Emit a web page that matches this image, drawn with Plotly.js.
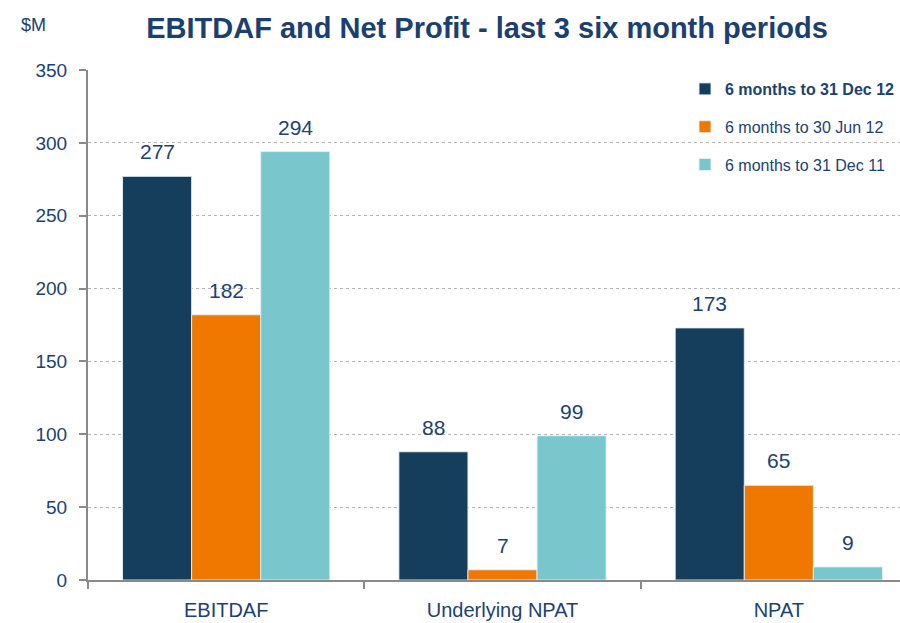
<!DOCTYPE html>
<html>
<head>
<meta charset="utf-8">
<script src="https://cdn.plot.ly/plotly-3.0.1.min.js"></script>
<style>
html,body{margin:0;padding:0;width:900px;height:623px;overflow:hidden;background:#fff;}
#chart{width:920px;height:623px;}
</style>
</head>
<body>
<div id="chart"></div>
<script>
const categories = ["EBITDAF", "Underlying NPAT", "NPAT"];
const seriesNames = ["6 months to 31 Dec 12", "6 months to 30 Jun 12", "6 months to 31 Dec 11"];
const dec12 = [277, 88, 173];
const jun12 = [182, 7, 65];
const dec11 = [294, 99, 9];
const yTicks = [0, 50, 100, 150, 200, 250, 300, 350];

const FONT = '"Liberation Sans Narrow", "Arial Narrow", "Liberation Sans", Arial, sans-serif';
const NAVY_TXT = '#1b4272';
const colors = ['#153d5c', '#f07800', '#79c7cc'];
const values = [dec12, jun12, dec11];

const traces = values.map((v, i) => ({
  type: 'bar',
  x: categories,
  y: v,
  name: i === 0 ? '<b>' + seriesNames[i] + '</b>' : seriesNames[i],
  legendgroup: 'g' + i,
  marker: {color: colors[i], line: {color: 'rgba(230,240,245,0.9)', width: 1}},
  hoverinfo: 'y'
}));

const W = 920, H = 623, mL = 88, mR = 3, mT = 70, mB = 43;
const bargap = 0.25;
const barW = (1 - bargap) / 3;
const annotations = [];
values.forEach((v, i) => {
  v.forEach((val, j) => {
    annotations.push({
      x: j + (i - 1) * barW, y: val, xref: 'x', yref: 'y',
      text: String(val), showarrow: false, xanchor: 'center', yanchor: 'bottom', yshift: 11,
      font: {family: FONT, size: 21, color: NAVY_TXT}
    });
  });
});
annotations.push({
  x: (33 - mL) / (W - mL - mR), y: (H - mB - 25) / (H - mT - mB),
  xref: 'paper', yref: 'paper', text: '$M', showarrow: false,
  xanchor: 'center', yanchor: 'middle',
  font: {family: FONT, size: 18, color: NAVY_TXT}
});

const layout = {
  width: W, height: H,
  margin: {l: mL, r: mR, t: mT, b: mB},
  paper_bgcolor: '#fff', plot_bgcolor: '#fff',
  barmode: 'group', bargap: bargap, bargroupgap: 0,
  title: {
    text: '<b>EBITDAF and Net Profit - last 3 six month periods</b>',
    font: {family: FONT, size: 29, color: '#1b3f6e'},
    x: 487 / W, xref: 'container', xanchor: 'center',
    y: 1 - 28 / H, yref: 'container', yanchor: 'middle'
  },
  font: {family: FONT, color: NAVY_TXT},
  xaxis: {
    type: 'category',
    range: [-0.5, 2.5],
    showline: true, linecolor: '#8a8a8a', linewidth: 2,
    ticks: 'outside', tickson: 'boundaries', ticklen: 7, tickcolor: '#8a8a8a', tickwidth: 2,
    tickfont: {family: FONT, size: 20, color: NAVY_TXT},
    ticklabelstandoff: 11,
    showgrid: false, zeroline: false
  },
  yaxis: {
    range: [0, 350], tickvals: yTicks,
    showline: true, linecolor: '#8a8a8a', linewidth: 2,
    ticks: 'outside', ticklen: 7, tickcolor: '#8a8a8a', tickwidth: 2,
    tickfont: {family: FONT, size: 19, color: NAVY_TXT},
    ticklabelstandoff: 8,
    showgrid: true, gridcolor: '#b5b5b5', griddash: 'dot', gridwidth: 1,
    zeroline: false
  },
  legend: {
    x: (685 - mL) / (W - mL - mR), y: 1 - (72 - mT) / (H - mT - mB),
    xanchor: 'left', yanchor: 'top',
    bgcolor: 'rgba(0,0,0,0)',
    traceorder: 'grouped', tracegroupgap: 14,
    font: {family: FONT, size: 16, color: NAVY_TXT},
    itemwidth: 30
  },
  showlegend: true,
  annotations: annotations
};

Plotly.newPlot('chart', traces, layout, {displayModeBar: false, staticPlot: true});
</script>
</body>
</html>
